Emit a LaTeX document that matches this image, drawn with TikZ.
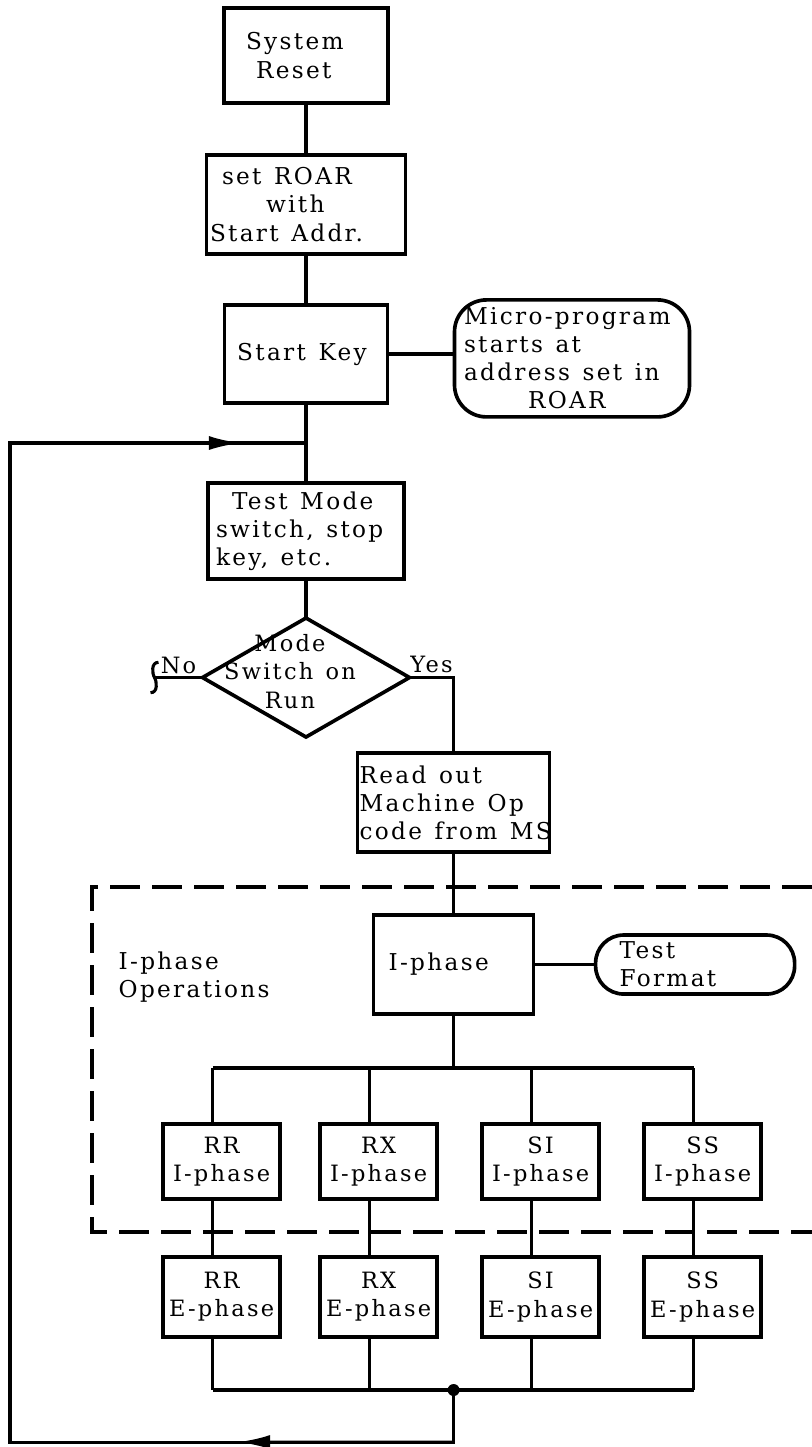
\documentclass[tikz,border=0pt]{standalone}
\usepackage{fontspec}
\setmainfont{DejaVu Serif}[LetterSpace=10,WordSpace=1.3]
\usepackage{tikz}
\usetikzlibrary{arrows.meta,positioning,calc,shapes.geometric}
\newcommand\flowfont{\fontsize{16.5}{20}\selectfont}
\newcommand\cellfont{\fontsize{16}{20}\selectfont}

\begin{document}
\begin{tikzpicture}[x=0.25mm,y=-0.25mm,>={Latex[length=8mm,width=3.5mm]},
  every node/.style={font=\flowfont,align=center,inner sep=1pt},
  box/.style={draw,line width=2.6pt,outer sep=0pt},
  cell/.style={box,font=\cellfont,minimum width=29.25mm},
  term/.style={draw,line width=2.6pt,outer sep=0pt,rounded corners=7mm},
  wire/.style={line width=2.2pt},
  frame/.style={line width=2.4pt,dash pattern=on 7.5mm off 3mm},
  junction/.style={circle,fill,inner sep=0pt,minimum size=3mm}]
\useasboundingbox (0,0) rectangle (812,1447);
% main column
\node[box,minimum width=41mm,minimum height=23.75mm,text width=37mm,align=flush left] (reset) at (306,55.5)
  {\hspace*{3.5mm}System\\\hspace*{6mm}Reset};
\node[box,minimum width=49.75mm,minimum height=24.75mm,text width=48mm,align=flush left,below=13mm of reset] (roar)
  {\hspace*{3mm}set ROAR\\\hspace*{14mm}with\\\mbox{Start Addr.}};
\node[box,minimum width=40.75mm,minimum height=24.5mm,below=12.75mm of roar] (start) {Start Key\hspace*{2mm}};
\node[term,rounded corners=8mm,minimum width=58.75mm,minimum height=29.25mm,text width=54mm,align=flush left,right=16.75mm of start,yshift=-1.1mm] (micro)
  {Micro-program\\starts at\\\mbox{address set in}\\\hspace*{16mm}ROAR};
\node[box,minimum width=49mm,minimum height=24mm,text width=45mm,align=flush left,below=20mm of start] (test)
  {\hspace*{4mm}Test Mode\\\mbox{switch, stop}\\key, etc.};
\node[draw,line width=2.6pt,outer sep=0pt,diamond,aspect=1.74,inner sep=0pt,minimum width=51.75mm,minimum height=29.75mm,below=9.75mm of test,
  label={[xshift=-4mm,yshift=1.5mm,align=center,font=\cellfont,inner sep=0pt]center:Mode\\Switch on\\Run}] (dec) {};
\node[box,minimum width=48mm,minimum height=24.75mm,text width=47mm,align=flush left,below=4mm of dec,xshift=36.9mm] (read)
  {Read out\\\mbox{Machine Op}\\\mbox{code from MS}};
% I-phase block
\node[box,minimum width=40mm,minimum height=24.75mm,text width=32.5mm,align=flush left,below=15.75mm of read] (iphase) {I-phase};
\node[term,minimum width=49.75mm,minimum height=14.75mm,text width=37.75mm,align=flush left,right=15.5mm of iphase] (tfmt) {Test\\Format};
\node[align=left,anchor=west] (ops) at (117,977) {I-phase\\Operations};
\node[cell,minimum height=18.75mm,below=27.5mm of iphase,xshift=-58mm] (i-rr) {RR\\I-phase};
\node[cell,minimum height=18.75mm,right=10mm of i-rr] (i-rx) {RX\\I-phase};
\node[cell,minimum height=18.75mm,right=11.25mm of i-rx] (i-si) {SI\\I-phase};
\node[cell,minimum height=18.75mm,right=11.25mm of i-si] (i-ss) {SS\\I-phase};
\foreach \k/\t in {rr/RR,rx/RX,si/SI,ss/SS}
  \node[cell,minimum height=20mm,below=14.5mm of i-\k] (e-\k) {\t\\E-phase};

% connectors
\draw[wire] (reset) -- (roar);
\draw[wire] (roar) -- (start);
\draw[wire] (start) -- (test);
\draw[wire] (test) -- (dec);
\draw[wire] (start.east) -- (start.east -| micro.west);
\coordinate (nobreak) at ($(dec.west)+(-12mm,0)$);
\draw[wire] (dec.west) -- node[above,inner sep=1.5pt,font=\cellfont] {No} (nobreak);
\draw[wire] ($(nobreak)+(1mm,3.8mm)$) .. controls ($(nobreak)+(-0.9mm,3.8mm)$) and ($(nobreak)+(-0.6mm,1mm)$) .. (nobreak)
  .. controls ($(nobreak)+(0.6mm,-1mm)$) and ($(nobreak)+(0.9mm,-3.8mm)$) .. ($(nobreak)+(-1mm,-3.8mm)$);
\draw[wire] (dec.east) -| node[pos=0.25,above,inner sep=2pt,font=\cellfont] {Yes} (read.north);
\draw[wire] (read) -- (iphase);
\draw[wire] (iphase.east) -- (iphase.east -| tfmt.west);
\draw[wire] (iphase.south) -- ++(0,-13.5mm);
\foreach \k in {rr,rx,si,ss}{
  \draw[wire] ($(i-\k.north)+(-2.2mm,0)$) -- ++(0,14mm);
  \draw[wire] ($(i-\k.south)+(-2.2mm,0)$) -- ($(e-\k.north)+(-2.2mm,0)$);
  \draw[wire] ($(e-\k.south)+(-2.2mm,0)$) -- ++(0,-13.25mm);
}
\draw[wire] ($(i-rr.north)+(-2.2mm,14mm)$) -- ($(i-ss.north)+(-2.2mm,14mm)$);
\coordinate (sink) at ($(e-rr.south)+(0,-13.25mm)$);
\draw[wire] ($(e-rr.south)+(-2.2mm,-13.25mm)$) -- ($(e-ss.south)+(-2.2mm,-13.25mm)$);
\node[junction] (merge) at (iphase.south |- sink) {};

% return loop
\coordinate (join) at ($(start.south)!0.5!(test.north)$);
\coordinate (ret) at ($(merge)+(0,-13mm)$);
\coordinate (leftrail) at (10,0);
\coordinate (corner-bl) at (leftrail |- ret);
\coordinate (corner-tl) at (leftrail |- join);
\draw[wire] (merge) -- (ret) -- (corner-bl) -- (corner-tl) -- (join);
\draw[wire,->] (corner-tl) -- ($(corner-tl)!0.78!(join)$);
\draw[wire,->] (ret) -- ($(ret)!0.486!(corner-bl)$);

% dashed I-phase boundary
\draw[frame] (812,887) -- (92,887) -- (92,1232) -- (812,1232);
\end{tikzpicture}
\end{document}
